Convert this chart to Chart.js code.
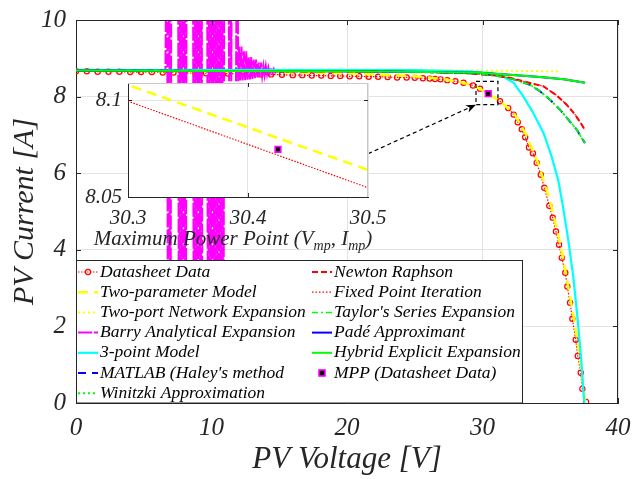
<!DOCTYPE html>
<html>
<head>
<meta charset="utf-8">
<script src="https://cdn.jsdelivr.net/npm/chart.js@4.4.0/dist/chart.umd.min.js"></script>
<style>
  html, body { margin: 0; padding: 0; background: #fff; }
  #wrap { position: relative; width: 634px; height: 479px; }
  #wrap canvas { position: absolute; left: 0; top: 0; }
  #inset { pointer-events: none; }
</style>
</head>
<body>
<div id="wrap">
  <canvas id="main" width="634" height="479"></canvas>
  <canvas id="inset" width="634" height="479"></canvas>
</div>
<script>
// ---- values ----
var xTicks = [0, 10, 20, 30, 40];
var yTicks = [0, 2, 4, 6, 8, 10];
var insetXTicks = [30.3, 30.4, 30.5];
var insetYTicks = [8.05, 8.1];

var datasheetV = [0, 0.8, 1.6, 2.4, 3.2, 4.0, 4.8, 5.6, 6.4, 7.2, 8.0, 8.8, 9.6, 10.4, 11.2, 12.0, 12.8, 13.6, 14.4, 15.2,
  16.0, 16.7, 17.4, 18.1, 18.8, 19.5, 20.2, 20.9, 21.6, 22.3, 23.0, 23.7, 24.4, 25.0, 25.6, 26.1, 26.5, 26.9, 27.4, 28.0,
  28.6, 29.3, 29.82, 31.29, 31.9, 32.3, 32.6, 32.9, 33.15, 33.43, 33.72, 34.0, 34.3, 34.56, 34.93, 35.18, 35.42, 35.65,
  35.85, 36.11, 36.26, 36.46, 36.63, 36.88, 37.03, 37.25, 37.37, 37.64];
var datasheetI = [8.66, 8.66, 8.65, 8.65, 8.65, 8.64, 8.64, 8.64, 8.63, 8.63, 8.62, 8.62, 8.61, 8.61, 8.60, 8.60, 8.59, 8.58, 8.58, 8.57,
  8.56, 8.56, 8.55, 8.55, 8.54, 8.54, 8.53, 8.53, 8.52, 8.52, 8.51, 8.50, 8.50, 8.49, 8.48, 8.47, 8.46, 8.45, 8.43, 8.40,
  8.36, 8.29, 8.207, 7.878, 7.70, 7.53, 7.33, 7.15, 6.94, 6.67, 6.52, 6.27, 5.96, 5.62, 5.15, 4.84, 4.48, 4.13,
  3.79, 3.40, 3.04, 2.62, 2.20, 1.65, 1.23, 0.79, 0.37, 0.03];

var twoParamV = [0, 10, 20, 25, 27, 28.5, 29.5, 30.3, 30.5, 31.4, 32.0, 32.4, 32.7, 33.0, 33.3, 33.6, 34.1, 34.7, 35.1, 35.55, 35.95, 36.4, 36.75, 37.1, 37.35, 37.55];
var twoParamI = [8.68, 8.66, 8.61, 8.53, 8.46, 8.37, 8.26, 8.108, 8.064, 7.85, 7.66, 7.52, 7.33, 7.15, 6.94, 6.67, 6.27, 5.6, 5.12, 4.45, 3.77, 2.9, 2.2, 1.4, 0.75, 0.05];

var twoPortV = [0, 15, 30, 35.6];
var twoPortI = [8.69, 8.69, 8.68, 8.66];

var barryV = [0, 5, 6.6, 6.72, 6.8, 6.88, 6.96, 7.04, 7.3,
  7.53, 7.61, 7.69, 7.77, 7.85, 7.93, 8.01, 8.09, 8.17, 8.4,
  8.63, 8.71, 8.79, 8.87, 8.95, 9.03, 9.11, 9.19, 9.27, 9.35, 9.5,
  9.67, 9.75, 9.83, 9.91, 9.99, 10.07, 10.15, 10.23, 10.31, 10.39, 10.47, 10.55, 10.63, 10.71, 10.79, 10.87, 10.95, 11.1,
  11.22, 11.3, 11.38, 11.46, 11.54, 11.7,
  11.81, 11.89, 11.97,
  12.03, 12.12, 12.21, 12.30, 12.39, 12.48, 12.57, 12.66, 12.75, 12.84, 12.93, 13.02, 13.11, 13.20, 13.29, 13.38,
  13.47, 13.56, 13.65, 13.74, 13.83, 13.92, 14.01, 14.10, 14.2, 14.3, 14.4, 14.5, 14.6, 14.7, 14.8, 15.0, 16.0];
var barryI = [8.68, 8.68, 8.68, 14, -4, 14, -4, 14, null,
  14, -4, 14, -4, 14, -4, 14, -4, 14, null,
  14, -4, 14, -4, 14, -4, 14, -4, 14, -4, null,
  14, -4, 14, -4, 14, -4, 14, -4, 14, -4, 14, -4, 14, -4, 14, -4, 14, null,
  14, 8.4, 14, 8.4, 14, null,
  8.4, 14, 8.4,
  9.31, 8.42, 9.31, 8.42, 9.18, 8.43, 9.18, 8.44, 9.03, 8.45, 9.03, 8.46, 8.97, 8.48, 8.97, 8.50,
  8.89, 8.52, 8.89, 8.54, 8.80, 8.56, 8.80, 8.58, 8.76, 8.60, 8.76, 8.62, 8.72, 8.64, 8.72, 8.67, 8.67];

var threePointV = [0, 25, 29, 30.5, 31.3, 32.3, 33.0, 33.75, 34.5, 35.1, 35.6, 35.95, 36.33, 36.7, 37.0, 37.27, 37.44, 37.52];
var threePointI = [8.70, 8.69, 8.66, 8.62, 8.57, 8.36, 8.01, 7.57, 7.05, 6.44, 5.8, 5.1, 4.26, 3.3, 2.26, 1.21, 0.34, 0.0];

// MATLAB (Haley), Winitzki and Taylor lie on the same curve
var iterV = [0, 10, 20, 26, 29, 30.5, 31.5, 32.52, 33.5, 34.24, 34.98, 35.72, 36.33, 36.95, 37.32, 37.56];
var iterI = [8.68, 8.67, 8.66, 8.64, 8.61, 8.57, 8.52, 8.43, 8.31, 8.14, 7.92, 7.66, 7.40, 7.14, 6.92, 6.79];

// Newton Raphson and Fixed Point Iteration
var newtonV = [0, 10, 20, 26, 29, 31, 32, 33.0, 34.49, 35.48, 36.21, 36.83, 37.32, 37.52];
var newtonI = [8.68, 8.67, 8.66, 8.64, 8.61, 8.55, 8.49, 8.40, 8.27, 8.03, 7.79, 7.53, 7.27, 7.15];

// Pade and Hybrid
var padeV = [0, 10, 20, 26, 29.8, 32, 34.24, 36, 37.57];
var padeI = [8.68, 8.67, 8.66, 8.64, 8.62, 8.57, 8.51, 8.45, 8.36];

var mppV = [30.425];
var mppI = [8.0747];

var zoomBoxV = [29.52, 31.14];
var zoomBoxI = [7.79, 8.40];
var arrowV = [21.57, 29.52];
var arrowI = [6.51, 7.79];

// ---- styling ----
var serif = '"Liberation Serif", "Times New Roman", serif';
var ink = '#262626';
var gridCol = '#e3e3e3';

function pts(xs, ys) {
	return xs.map(function (x, i) { return { x: x, y: ys[i] }; });
}

var series = [
	{ label: 'Datasheet Data', v: datasheetV, i: datasheetI, color: '#ff0000', width: 1.2, dash: [1.5, 1.5], marker: 'circle' },
	{ label: 'Two-parameter Model', v: twoParamV, i: twoParamI, color: '#ffff00', width: 2.5, dash: [10, 6] },
	{ label: 'Two-port Network Expansion', v: twoPortV, i: twoPortI, color: '#ffff00', width: 2, dash: [2, 3] },
	{ label: 'Barry Analytical Expansion', v: barryV, i: barryI, color: '#ff00ff', width: 2, dash: [14, 2] },
	{ label: '3-point Model', v: threePointV, i: threePointI, color: '#00ffff', width: 2.2, dash: [] },
	{ label: "MATLAB (Haley's method", v: iterV, i: iterI, color: '#0000ff', width: 2, dash: [8, 6] },
	{ label: 'Winitzki Approximation', v: iterV, i: iterI, color: '#00ff00', width: 2, dash: [2, 3] },
	{ label: 'Newton Raphson', v: newtonV, i: newtonI, color: '#ff0000', width: 2, dash: [6, 3] },
	{ label: 'Fixed Point Iteration', v: newtonV, i: newtonI, color: '#ff0000', width: 1.2, dash: [1.5, 2] },
	{ label: "Taylor's Series Expansion", v: iterV, i: iterI, color: '#00ff00', width: 1.5, dash: [6, 3, 2, 3] },
	{ label: 'Padé Approximant', v: padeV, i: padeI, color: '#0000ff', width: 2, dash: [] },
	{ label: 'Hybrid Explicit Expansion', v: padeV, i: padeI, color: '#00ff00', width: 2, dash: [] },
	{ label: 'MPP (Datasheet Data)', v: mppV, i: mppI, color: '#ff00ff', width: 0, dash: [], marker: 'rect' }
];

function makeDataset(s, idx) {
	var ds = {
		label: s.label,
		data: pts(s.v, s.i),
		borderColor: s.color,
		borderWidth: s.width,
		borderDash: s.dash,
		pointRadius: 0,
		fill: false,
		spanGaps: false,
		order: 100 - idx
	};
	if (s.marker == 'circle') {
		ds.pointRadius = 2.6;
		ds.pointBorderWidth = 1.2;
		ds.pointBorderColor = s.color;
		ds.pointBackgroundColor = 'rgba(255,255,255,0)';
	}
	if (s.marker == 'rect') {
		ds.showLine = false;
		ds.pointStyle = 'rect';
		ds.pointRadius = 4;
		ds.pointBorderWidth = 1.6;
		ds.pointBorderColor = '#ff00ff';
		ds.pointBackgroundColor = '#000';
	}
	return ds;
}

function tickFont(size) {
	return { family: serif, size: size, style: 'italic' };
}

// keep the plot box where the figure has it, whatever the label overhang
function fixX(h) {
	return function (s) { s.height = h; s.paddingLeft = 0; s.paddingRight = 0; };
}
function fixY(w) {
	return function (s) { s.width = w; s.paddingTop = 0; s.paddingBottom = 0; };
}

function drawInTicks(ctx, area, xs, ys, sx, sy, len) {
	ctx.beginPath();
	xs.forEach(function (v) {
		var px = Math.round(sx.getPixelForValue(v)) + 0.5;
		ctx.moveTo(px, area.bottom); ctx.lineTo(px, area.bottom - len);
		ctx.moveTo(px, area.top); ctx.lineTo(px, area.top + len);
	});
	ys.forEach(function (v) {
		var py = Math.round(sy.getPixelForValue(v)) + 0.5;
		ctx.moveTo(area.left, py); ctx.lineTo(area.left + len, py);
		ctx.moveTo(area.right, py); ctx.lineTo(area.right - len, py);
	});
	ctx.stroke();
}

function drawSample(ctx, s, x0, y) {
	if (s.width > 0) {
		ctx.save();
		ctx.strokeStyle = s.color;
		ctx.lineWidth = s.width;
		ctx.setLineDash(s.dash);
		ctx.beginPath();
		ctx.moveTo(x0, y); ctx.lineTo(x0 + 20, y);
		ctx.stroke();
		ctx.restore();
	}
	if (s.marker == 'circle') {
		ctx.save();
		ctx.strokeStyle = s.color; ctx.lineWidth = 1.2;
		ctx.beginPath(); ctx.arc(x0 + 10, y, 2.6, 0, Math.PI * 2); ctx.stroke();
		ctx.restore();
	}
	if (s.marker == 'rect') {
		ctx.save();
		ctx.fillStyle = '#000'; ctx.strokeStyle = '#ff00ff'; ctx.lineWidth = 1.6;
		ctx.fillRect(x0 + 7, y - 3, 6, 6); ctx.strokeRect(x0 + 7, y - 3, 6, 6);
		ctx.restore();
	}
}

var mainDecor = {
	id: 'mainDecor',
	afterDatasetsDraw: function (chart) {
		var ctx = chart.ctx, a = chart.chartArea, sx = chart.scales.x, sy = chart.scales.y;
		ctx.save();
		ctx.strokeStyle = ink; ctx.lineWidth = 1;
		ctx.beginPath();
		ctx.moveTo(a.left, a.top + 0.5); ctx.lineTo(a.right, a.top + 0.5);
		ctx.moveTo(a.right - 0.5, a.top); ctx.lineTo(a.right - 0.5, a.bottom);
		ctx.stroke();
		drawInTicks(ctx, a, xTicks, yTicks, sx, sy, 5);

		// dashed box round the MPP and the arrow from the inset
		ctx.strokeStyle = '#000'; ctx.lineWidth = 1.2; ctx.setLineDash([4, 3]);
		var bx0 = sx.getPixelForValue(zoomBoxV[0]), bx1 = sx.getPixelForValue(zoomBoxV[1]);
		var by0 = sy.getPixelForValue(zoomBoxI[1]), by1 = sy.getPixelForValue(zoomBoxI[0]);
		ctx.strokeRect(bx0, by0, bx1 - bx0, by1 - by0);
		var ax0 = sx.getPixelForValue(arrowV[0]), ay0 = sy.getPixelForValue(arrowI[0]);
		var ax1 = sx.getPixelForValue(arrowV[1]), ay1 = sy.getPixelForValue(arrowI[1]);
		var ang = Math.atan2(ay1 - ay0, ax1 - ax0);
		ctx.beginPath(); ctx.moveTo(ax0, ay0); ctx.lineTo(ax1 - 7 * Math.cos(ang), ay1 - 7 * Math.sin(ang)); ctx.stroke();
		ctx.setLineDash([]);
		ctx.fillStyle = '#000';
		ctx.beginPath();
		ctx.moveTo(ax1, ay1);
		ctx.lineTo(ax1 - 10 * Math.cos(ang) + 4 * Math.sin(ang), ay1 - 10 * Math.sin(ang) - 4 * Math.cos(ang));
		ctx.lineTo(ax1 - 7 * Math.cos(ang), ay1 - 7 * Math.sin(ang));
		ctx.lineTo(ax1 - 10 * Math.cos(ang) - 4 * Math.sin(ang), ay1 - 10 * Math.sin(ang) + 4 * Math.cos(ang));
		ctx.closePath(); ctx.fill();
		ctx.restore();
	},
	afterDraw: function (chart) {
		// legend box inside the axes, two columns like MATLAB
		var ctx = chart.ctx, a = chart.chartArea;
		var top = 260;
		ctx.save();
		ctx.fillStyle = '#fff';
		ctx.fillRect(a.left, top, 446, a.bottom - top);
		ctx.strokeStyle = ink; ctx.lineWidth = 1;
		ctx.strokeRect(a.left + 0.5, top + 0.5, 446, a.bottom - top - 0.5);
		ctx.font = 'italic 17.5px ' + serif;
		ctx.textBaseline = 'middle';
		ctx.textAlign = 'left';
		series.forEach(function (s, k) {
			var col = k < 7 ? 0 : 1;
			var row = k < 7 ? k : k - 7;
			var x0 = col ? 312 : 78;
			var y = 272 + row * 20.2;
			drawSample(ctx, s, x0, y);
			ctx.fillStyle = '#000';
			ctx.fillText(s.label, x0 + 22, y);
		});
		ctx.restore();
	}
};

new Chart('main', {
	type: 'line',
	data: { datasets: series.map(makeDataset) },
	options: {
		responsive: false,
		animation: false,
		devicePixelRatio: 1,
		layout: { padding: { top: 20, right: 16, left: 0, bottom: 0 } },
		plugins: { legend: { display: false }, tooltip: { enabled: false } },
		scales: {
			x: {
				type: 'linear', min: 0, max: 40,
				afterBuildTicks: function (s) { s.ticks = xTicks.map(function (v) { return { value: v }; }); },
				afterFit: fixX(76),
				grid: { color: gridCol, drawTicks: false },
				border: { color: ink },
				ticks: { padding: 10, color: ink, font: tickFont(25) },
				title: { display: true, text: 'PV Voltage [V]', color: ink, font: tickFont(31), padding: { top: 0, bottom: 1 } }
			},
			y: {
				type: 'linear', min: 0, max: 10,
				afterBuildTicks: function (s) { s.ticks = yTicks.map(function (v) { return { value: v }; }); },
				afterFit: fixY(76),
				grid: { color: gridCol, drawTicks: false },
				border: { color: ink },
				ticks: { padding: 10, color: ink, font: tickFont(25) },
				title: { display: true, text: 'PV Current [A]', color: ink, font: tickFont(30), padding: { top: 7, bottom: 0 } }
			}
		}
	},
	plugins: [mainDecor]
});

// ---- zoomed inset round the maximum power point ----
var insetDecor = {
	id: 'insetDecor',
	beforeDraw: function (chart) {
		var ctx = chart.ctx, a = chart.chartArea;
		ctx.save();
		ctx.fillStyle = '#fff';
		ctx.fillRect(a.left, a.top, a.right - a.left, a.bottom - a.top);
		ctx.restore();
	},
	afterDraw: function (chart) {
		var ctx = chart.ctx, a = chart.chartArea, sx = chart.scales.x, sy = chart.scales.y;
		ctx.save();
		ctx.strokeStyle = '#c8c8c8'; ctx.lineWidth = 1;
		ctx.beginPath();
		ctx.moveTo(a.left, a.top + 0.5); ctx.lineTo(a.right, a.top + 0.5);
		ctx.moveTo(a.right - 0.5, a.top); ctx.lineTo(a.right - 0.5, a.bottom);
		ctx.stroke();
		ctx.strokeStyle = ink;
		drawInTicks(ctx, a, [insetXTicks[1]], [insetYTicks[1]], sx, sy, 4);

		// x label with subscripts
		var big = 'italic 21px ' + serif, small = 'italic 14px ' + serif;
		var parts = [['Maximum Power Point (V', big, 0], ['mp', small, 5], [', I', big, 0], ['mp', small, 5], [')', big, 0]];
		var w = 0;
		parts.forEach(function (p) { ctx.font = p[1]; w += ctx.measureText(p[0]).width; });
		var x = (a.left + a.right) / 2 - 15 - w / 2;
		var base = 245;
		ctx.fillStyle = ink;
		ctx.textBaseline = 'alphabetic';
		parts.forEach(function (p) {
			ctx.font = p[1];
			ctx.fillText(p[0], x, base + p[2]);
			x += ctx.measureText(p[0]).width;
		});
		ctx.restore();
	}
};

new Chart('inset', {
	type: 'line',
	data: {
		datasets: [
			makeDataset(series[0], 0),
			makeDataset(series[1], 1),
			makeDataset(series[12], 12)
		].map(function (ds) { if (ds.showLine !== false) ds.pointRadius = 0; return ds; })
	},
	options: {
		responsive: false,
		animation: false,
		devicePixelRatio: 1,
		layout: { padding: { top: 83, right: 266, left: 80, bottom: 252 } },
		plugins: { legend: { display: false }, tooltip: { enabled: false } },
		scales: {
			x: {
				type: 'linear', min: 30.3, max: 30.5,
				afterBuildTicks: function (s) { s.ticks = insetXTicks.map(function (v) { return { value: v }; }); },
				afterFit: fixX(30),
				grid: { color: gridCol, drawTicks: false },
				border: { color: ink },
				ticks: { padding: 9, color: ink, font: tickFont(21), callback: function (v) { return v.toFixed(1); } }
			},
			y: {
				type: 'linear', min: 8.05, max: 8.109,
				afterBuildTicks: function (s) { s.ticks = insetYTicks.map(function (v) { return { value: v }; }); },
				afterFit: fixY(48),
				grid: { color: gridCol, drawTicks: false },
				border: { color: ink },
				ticks: { padding: 6, color: ink, font: tickFont(21), callback: function (v) { return String(Math.round(v * 100) / 100); } }
			}
		}
	},
	plugins: [insetDecor]
});
</script>
</body>
</html>
